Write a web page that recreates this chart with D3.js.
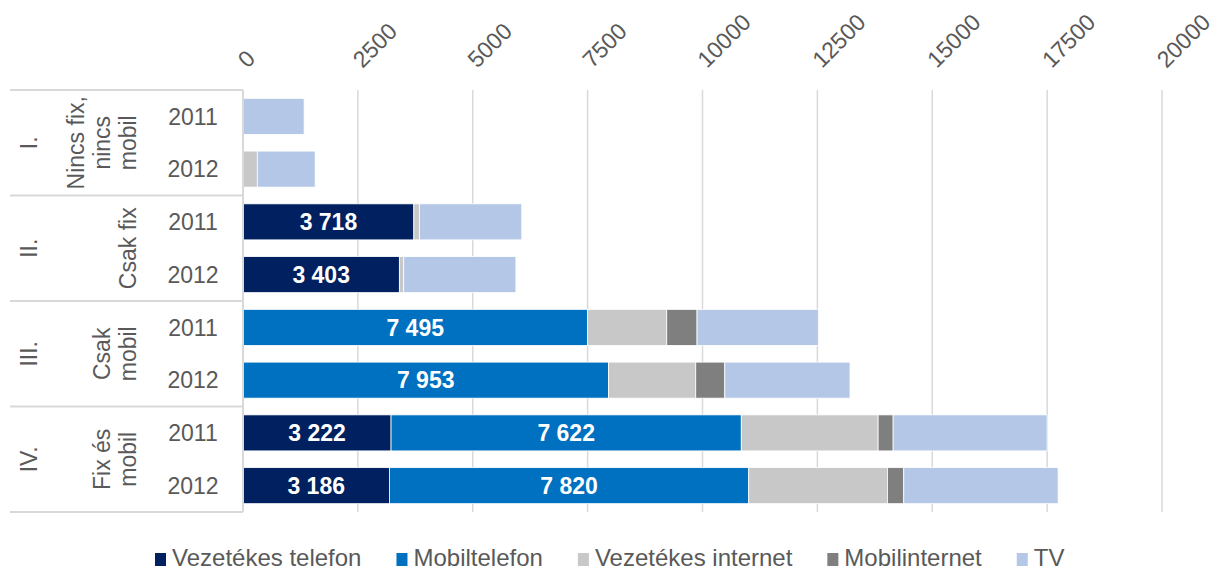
<!DOCTYPE html>
<html>
<head>
<meta charset="utf-8">
<script src="https://cdn.jsdelivr.net/npm/d3@7"></script>
<style>
  html, body { margin: 0; padding: 0; background: #fff; }
  svg { display: block; font-family: "Liberation Sans", Arial, sans-serif; }
</style>
</head>
<body>
<div id="chart"></div>
<script>
const groups = ['I.', 'II.', 'III.', 'IV.'];
const groupNames = [['Nincs fix,', 'nincs', 'mobil'], ['Csak fix'], ['Csak', 'mobil'], ['Fix és', 'mobil']];
const years = ['2011', '2012'];
const series = ['Vezetékes telefon', 'Mobiltelefon', 'Vezetékes internet', 'Mobilinternet', 'TV'];
const colors = ['#002060', '#0070C0', '#C8C8C8', '#7F7F7F', '#B4C7E7'];
// one value per row: I-2011, I-2012, II-2011, ... IV-2012
const vezTel   = [0, 0, 3718, 3403, 0, 0, 3222, 3186];
const mobilTel = [0, 0, 0, 0, 7495, 7953, 7622, 7820];
const vezNet   = [0, 312, 120, 95, 1727, 1900, 2978, 3018];
const mobilNet = [0, 0, 0, 0, 659, 632, 327, 356];
const tv       = [1330, 1258, 2229, 2441, 2640, 2725, 3350, 3359];
const ticks = [0, 2500, 5000, 7500, 10000, 12500, 15000, 17500, 20000];

const W = 1217, H = 571;
const m = { t: 90, l: 243, r: 55, b: 59 };
const grey = '#595959', rule = '#D9D9D9';

const rows = groups.flatMap((g, gi) => years.map(y => ({ key: g + y, group: gi, year: y })));
const table = rows.map((r, i) => ({ key: r.key, s0: vezTel[i], s1: mobilTel[i], s2: vezNet[i], s3: mobilNet[i], s4: tv[i] }));
const keys = ['s0', 's1', 's2', 's3', 's4'];
const stacked = d3.stack().keys(keys)(table);

const x = d3.scaleLinear().domain([0, 20000]).range([m.l, W - m.r]);
const y = d3.scaleBand().domain(rows.map(r => r.key)).range([m.t, H - m.b]).paddingInner(0.317).paddingOuter(0.158);
const step = y.step();

const svg = d3.select('#chart').append('svg').attr('width', W).attr('height', H);

// gridlines
svg.append('g').selectAll('line').data(ticks).join('line')
  .attr('x1', d => x(d)).attr('x2', d => x(d)).attr('y1', m.t).attr('y2', H - m.b)
  .attr('stroke', rule).attr('stroke-width', 1.5);

// top axis labels, rotated
const ax = svg.append('g').attr('transform', `translate(0,${m.t - 21})`)
  .call(d3.axisTop(x).tickValues(ticks).tickFormat(d3.format('d')).tickSize(0));
ax.select('.domain').remove();
ax.selectAll('text')
  .attr('transform', 'translate(4,0) rotate(-45)').attr('x', 0).attr('y', 0).attr('dy', 0)
  .attr('text-anchor', 'start').attr('font-size', 23).attr('fill', grey)
  .attr('font-family', '"Liberation Sans", Arial, sans-serif');

// category table lines
svg.append('g').selectAll('line').data(d3.range(groups.length + 1)).join('line')
  .attr('x1', 10).attr('x2', m.l).attr('y1', d => m.t + step * 2 * d).attr('y2', d => m.t + step * 2 * d)
  .attr('stroke', rule).attr('stroke-width', 2);

// bars
svg.append('g').selectAll('g').data(stacked).join('g')
  .attr('fill', (d, i) => colors[i])
  .selectAll('rect').data(d => d).join('rect')
  .attr('x', d => x(d[0])).attr('width', d => x(d[1]) - x(d[0]))
  .attr('y', d => y(d.data.key)).attr('height', y.bandwidth())
  .attr('stroke', '#fff').attr('stroke-width', d => d[1] > d[0] ? 0.8 : 0);

// value labels on telephone segments
stacked.slice(0, 2).forEach(s => {
  svg.append('g').selectAll('text').data(s.filter(d => d[1] > d[0])).join('text')
    .attr('x', d => (x(d[0]) + x(d[1])) / 2).attr('y', d => y(d.data.key) + y.bandwidth() / 2)
    .attr('dy', '0.36em').attr('text-anchor', 'middle').attr('font-size', 23).attr('font-weight', 'bold')
    .attr('fill', '#fff').text(d => d3.format(',')(d[1] - d[0]).replace(',', ' '));
});

// plot left axis
svg.append('line').attr('x1', m.l).attr('x2', m.l).attr('y1', m.t).attr('y2', H - m.b)
  .attr('stroke', rule).attr('stroke-width', 2);

// year labels
svg.append('g').selectAll('text').data(rows).join('text')
  .attr('x', 193).attr('y', d => y(d.key) + y.bandwidth() / 2).attr('dy', '0.36em')
  .attr('text-anchor', 'middle').attr('font-size', 23).attr('fill', grey).text(d => d.year);

// group labels (rotated)
groups.forEach((g, gi) => {
  const cy = m.t + step * (2 * gi + 1);
  svg.append('text').attr('transform', `translate(29,${cy}) rotate(-90)`)
    .attr('text-anchor', 'middle').attr('dy', '0.36em').attr('font-size', 23).attr('fill', grey).text(g);
  const lines = groupNames[gi];
  const gt = svg.append('g').attr('transform', `translate(128,${cy}) rotate(-90)`);
  lines.forEach((t, i) => gt.append('text')
    .attr('x', 0).attr('y', (i - (lines.length - 1)) * 26).attr('dy', '0.36em')
    .attr('text-anchor', 'middle').attr('font-size', 23).attr('fill', grey).text(t));
});

// legend
const leg = svg.append('g').attr('transform', `translate(155,${H - 5})`);
let lx = 0;
series.forEach((s, i) => {
  leg.append('rect').attr('x', lx).attr('y', -13).attr('width', 11).attr('height', 13).attr('fill', colors[i]);
  const t = leg.append('text').attr('x', lx + 17).attr('y', 0).attr('font-size', 24).attr('fill', grey).text(s);
  lx += 17 + t.node().getComputedTextLength() + 35;
});
</script>
</body>
</html>
